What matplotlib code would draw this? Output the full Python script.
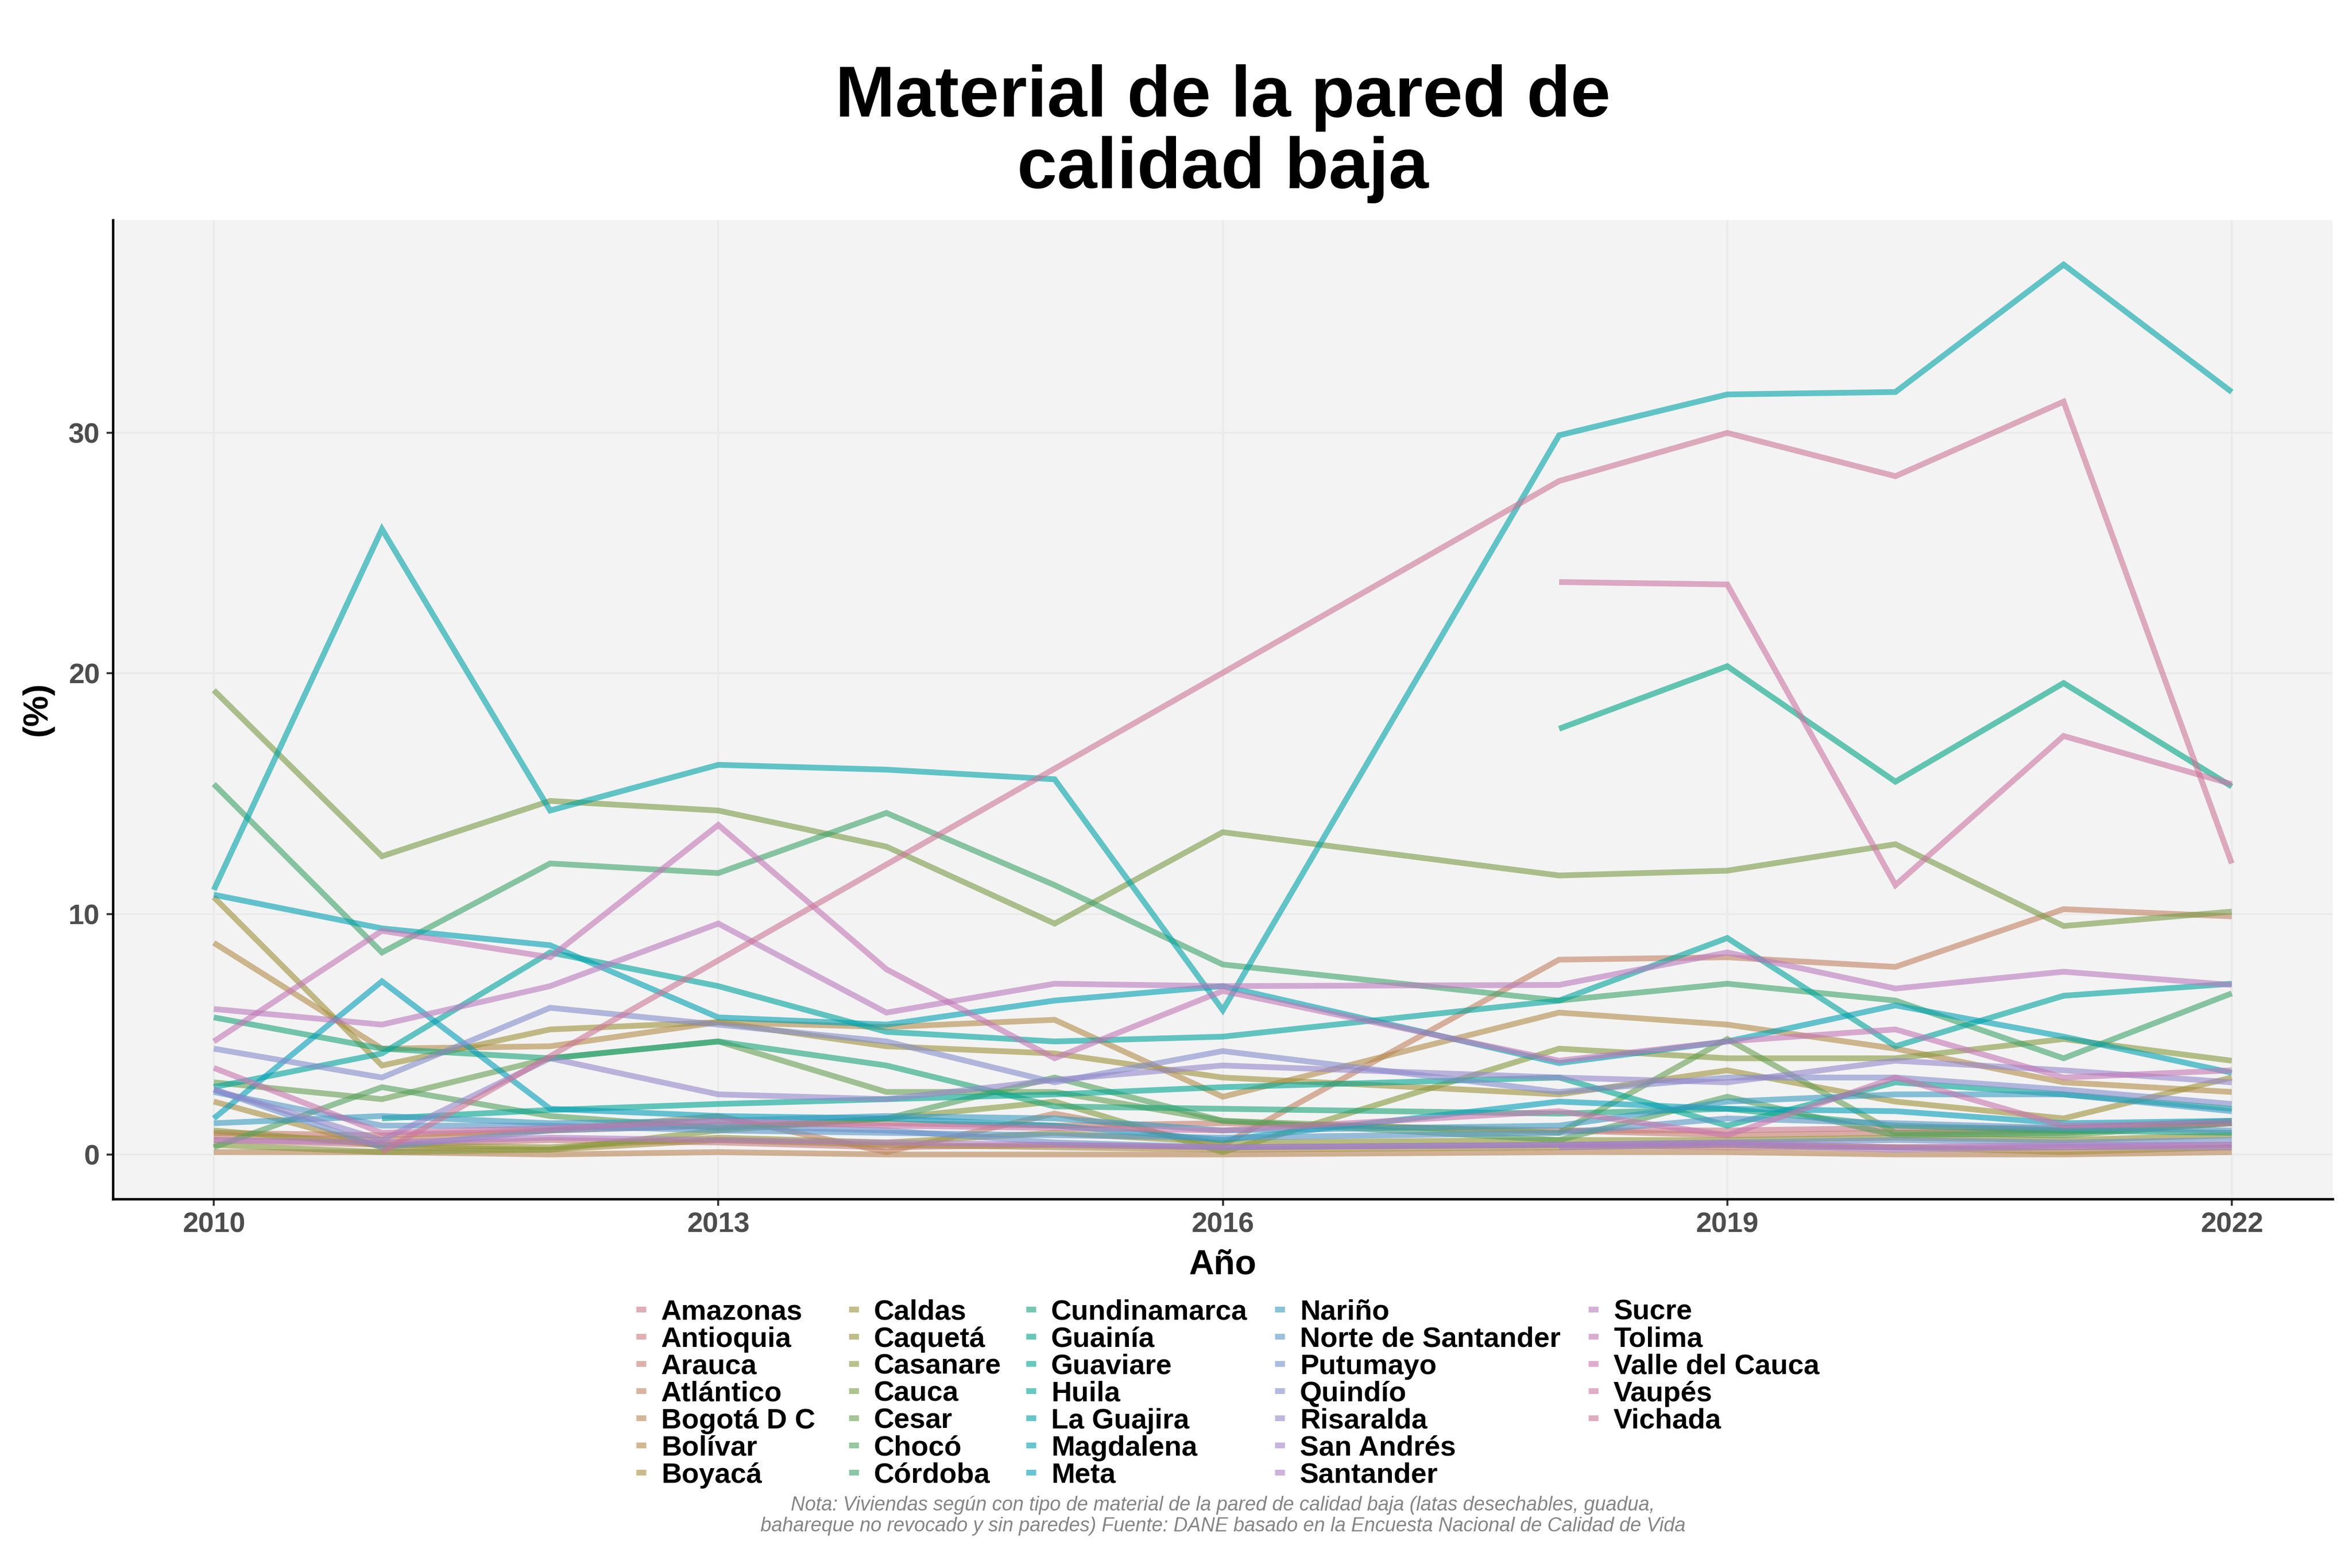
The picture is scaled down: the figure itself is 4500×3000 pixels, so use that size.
import numpy as np
import matplotlib
matplotlib.use("Agg")
import matplotlib.pyplot as plt
from matplotlib.lines import Line2D

plt.rcParams['font.family'] = ['Liberation Sans', 'DejaVu Sans']

nan = np.nan
years = [2010, 2011, 2012, 2013, 2014, 2015, 2016, 2018, 2019, 2020, 2021, 2022]

departamentos = ["Amazonas", "Antioquia", "Arauca", "Atlántico", "Bogotá D C", "Bolívar", "Boyacá",
                 "Caldas", "Caquetá", "Casanare", "Cauca", "Cesar", "Chocó", "Córdoba",
                 "Cundinamarca", "Guainía", "Guaviare", "Huila", "La Guajira", "Magdalena", "Meta",
                 "Nariño", "Norte de Santander", "Putumayo", "Quindío", "Risaralda", "San Andrés",
                 "Santander", "Sucre", "Tolima", "Valle del Cauca", "Vaupés", "Vichada"]

amazonas = [nan, nan, nan, nan, nan, nan, nan, 1.0, 1.0, 1.1, 1.1, 1.4]
antioquia = [0.6, 0.4, 0.6, 0.5, 0.3, 0.4, 0.3, 0.4, 0.3, 0.3, 0.3, 0.4]
arauca = [0.9, 0.8, 1.0, 1.2, 1.3, 1.2, 1.3, 1.0, 0.8, 0.9, 1.0, 1.3]
atlantico = [0.8, 0.6, 1.0, 1.6, 0.1, 1.7, 0.4, 8.1, 8.2, 7.8, 10.2, 9.9]
bogota = [0.1, 0.1, 0.0, 0.1, 0.0, 0.0, 0.0, 0.1, 0.1, 0.0, 0.0, 0.1]
bolivar = [8.8, 4.4, 4.5, 5.5, 5.3, 5.6, 2.4, 5.9, 5.4, 4.4, 3.0, 2.6]
boyaca = [2.2, 0.3, 0.2, 0.6, 0.4, 0.3, 0.2, 0.3, 0.4, 0.3, 0.1, 0.3]
caldas = [10.7, 3.7, 5.2, 5.5, 4.5, 4.2, 3.2, 2.5, 3.5, 2.2, 1.5, 3.2]
caqueta = [1.0, 0.4, 0.3, 0.7, 0.5, 0.9, 0.5, 0.6, 0.6, 0.7, 0.6, 0.8]
casanare = [0.4, 0.1, 0.2, 1.0, 1.5, 2.2, 0.1, 4.4, 4.0, 4.0, 4.8, 3.9]
cauca = [19.3, 12.4, 14.7, 14.3, 12.8, 9.6, 13.4, 11.6, 11.8, 12.9, 9.5, 10.1]
cesar = [3.0, 2.3, 4.0, 4.7, 2.6, 2.6, 1.4, 0.9, 4.8, 0.9, 0.8, 1.3]
choco = [0.3, 2.8, 1.6, 1.1, 1.5, 3.2, 1.4, 0.6, 2.4, 0.8, 0.9, 1.3]
cordoba = [15.4, 8.4, 12.1, 11.7, 14.2, 11.2, 7.9, 6.4, 7.1, 6.4, 4.0, 6.7]
cundinamarca = [5.7, 4.4, 4.0, 4.7, 3.7, 2.0, 1.9, 1.7, 1.9, 1.2, 1.0, 0.9]
guainia = [nan, nan, nan, nan, nan, nan, nan, 17.7, 20.3, 15.5, 19.6, 15.3]
guaviare = [nan, 1.5, 1.85, 2.1, 2.3, 2.5, 2.8, 3.2, 1.2, 3.0, 2.5, 1.9]
huila = [2.8, 4.2, 8.4, 7.0, 5.1, 4.7, 4.9, 6.4, 9.0, 4.5, 6.6, 7.1]
la_guajira = [11.0, 26.0, 14.3, 16.2, 16.0, 15.6, 6.0, 29.9, 31.6, 31.7, 37.0, 31.7]
magdalena = [10.8, 9.4, 8.7, 5.7, 5.4, 6.4, 7.0, 3.8, 4.7, 6.2, 4.9, 3.4]
meta = [1.5, 7.2, 1.9, 1.6, 1.5, 1.2, 0.6, 2.2, 1.9, 1.8, 1.3, 1.4]
narino = [1.3, 1.6, 1.3, 1.4, 1.6, 1.5, 1.0, 1.2, 2.2, 2.5, 2.5, 1.8]
norte_santander = [2.6, 1.2, 1.2, 1.0, 0.9, 0.8, 0.7, 0.9, 1.5, 1.3, 1.1, 1.0]
putumayo = [2.7, 0.3, 1.0, 1.2, 1.0, 0.5, 0.3, 0.4, 0.5, 0.6, 0.5, 0.6]
quindio = [4.4, 3.2, 6.1, 5.4, 4.7, 3.0, 4.3, 2.6, 3.2, 3.2, 2.7, 2.1]
risaralda = [2.7, 0.6, 4.0, 2.5, 2.3, 3.1, 3.7, 3.2, 3.0, 3.9, 3.5, 3.0]
san_andres = [nan, nan, nan, nan, nan, nan, nan, 0.3, 0.4, 0.2, 0.3, 0.3]
santander = [0.6, 0.5, 0.7, 0.6, 0.5, 0.4, 0.3, 0.4, 0.5, 0.3, 0.4, 0.4]
sucre = [6.05, 5.4, 7.0, 9.6, 5.9, 7.1, 7.0, 7.05, 8.4, 6.9, 7.6, 7.05]
tolima = [4.7, 9.3, 8.2, 13.7, 7.7, 4.0, 6.8, 3.9, 4.7, 5.2, 3.2, 3.5]
valle = [3.6, 0.9, 1.1, 1.4, 1.2, 1.1, 1.0, 1.8, 0.8, 3.2, 1.2, 1.3]
vaupes = [nan, nan, nan, nan, nan, nan, nan, 23.8, 23.7, 11.2, 17.4, 15.4]
vichada = [nan, 0.1, nan, nan, nan, nan, nan, 28.0, 30.0, 28.2, 31.3, 12.1]

valores = [amazonas, antioquia, arauca, atlantico, bogota, bolivar, boyaca, caldas, caqueta,
           casanare, cauca, cesar, choco, cordoba, cundinamarca, guainia, guaviare, huila,
           la_guajira, magdalena, meta, narino, norte_santander, putumayo, quindio, risaralda,
           san_andres, santander, sucre, tolima, valle, vaupes, vichada]

x_ticks = [2010, 2013, 2016, 2019, 2022]
y_ticks = [0, 10, 20, 30]

titulo = "Material de la pared de\ncalidad baja"
nota = ("Nota: Viviendas según con tipo de material de la pared de calidad baja (latas desechables, guadua,\n"
        "bahareque no revocado y sin paredes) Fuente: DANE basado en la Encuesta Nacional de Calidad de Vida")


def hcl_to_rgb(h, c, l):
    hr = np.deg2rad(h)
    U, V = c * np.cos(hr), c * np.sin(hr)
    Xn, Yn, Zn = 95.047, 100.0, 108.883
    Y = Yn * ((l + 16) / 116) ** 3 if l > 8 else Yn * l / 903.3
    den = Xn + 15 * Yn + 3 * Zn
    un, vn = 4 * Xn / den, 9 * Yn / den
    u = U / (13 * l) + un
    v = V / (13 * l) + vn
    X = 9 * Y * u / (4 * v)
    Z = Y * (12 - 3 * u - 20 * v) / (4 * v)
    M = np.array([[3.2406, -1.5372, -0.4986],
                  [-0.9689, 1.8758, 0.0415],
                  [0.0557, -0.2040, 1.0570]])
    lin = M @ (np.array([X, Y, Z]) / 100.0)
    out = np.where(lin > 0.0031308, 1.055 * np.clip(lin, 0, None) ** (1 / 2.4) - 0.055, 12.92 * lin)
    return tuple(np.clip(out, 0, 1))


n = len(departamentos)
colores = [hcl_to_rgb(i * 360.0 / n, 55, 60) for i in range(n)]
ALPHA = 0.6
LW = 2.64

W, H = 4500, 3000
fig = plt.figure(figsize=(15, 10), dpi=300)
pl, pr, pt, pb = 216, 4463, 421, 2294
ax = fig.add_axes([pl / W, 1 - pb / H, (pr - pl) / W, (pb - pt) / H])
ax.set_facecolor('#F3F3F3')

for nombre, vals, col in zip(departamentos, valores, colores):
    xs = np.array(years, dtype=float)
    ys = np.array(vals, dtype=float)
    m = ~np.isnan(ys)
    ax.plot(xs[m], ys[m], color=col, alpha=ALPHA, lw=LW, solid_joinstyle='miter',
            solid_capstyle='butt', zorder=2)

ax.set_xlim(2009.4, 2022.6)
ax.set_ylim(-1.85, 38.85)
ax.set_xticks(x_ticks)
ax.set_yticks(y_ticks)
ax.grid(True, color='#EAEAEA', lw=0.9, zorder=0)
ax.set_axisbelow(True)
for s in ['top', 'right']:
    ax.spines[s].set_visible(False)
for s in ['left', 'bottom']:
    ax.spines[s].set_color('black')
    ax.spines[s].set_linewidth(1.1)
ax.tick_params(axis='both', length=3, width=0.9, color='#333333', labelsize=13,
               labelcolor='#4D4D4D', pad=3)
for lab in ax.get_xticklabels() + ax.get_yticklabels():
    lab.set_fontweight('bold')

cx = (pl + pr) / 2 / W
fig.text(cx, 1 - 256 / H, titulo, ha='center', va='center', fontsize=33, fontweight='bold',
         linespacing=1.08)
fig.text(cx, 1 - 2420 / H, "Año", ha='center', va='center', fontsize=16, fontweight='bold')
fig.text(72 / W, 1 - 1356 / H, "(%)", ha='center', va='center', fontsize=16, fontweight='bold',
         rotation=90)

# legend (manual, 5 columns x 7 rows, column-major)
key_x = [1217, 1624, 1963, 2439, 3039]
row_y0, row_dy = 2505, 52
key_w = 19
for i, (nombre, col) in enumerate(zip(departamentos, colores)):
    c, r = divmod(i, 7)
    kx = key_x[c]
    ky = row_y0 + r * row_dy
    fig.add_artist(Line2D([kx / W, (kx + key_w) / W], [1 - ky / H, 1 - ky / H],
                          transform=fig.transFigure, color=col, alpha=ALPHA, lw=LW,
                          solid_capstyle='butt'))
    fig.text((kx + 48) / W, 1 - ky / H, nombre, ha='left', va='center_baseline',
             fontsize=13, fontweight='bold')

fig.text(cx, 1 - 2900 / H, nota, ha='center', va='center', fontsize=9.0, style='italic',
         color='#858585', linespacing=1.15)

fig.savefig("out.png", dpi=300, facecolor='white')
